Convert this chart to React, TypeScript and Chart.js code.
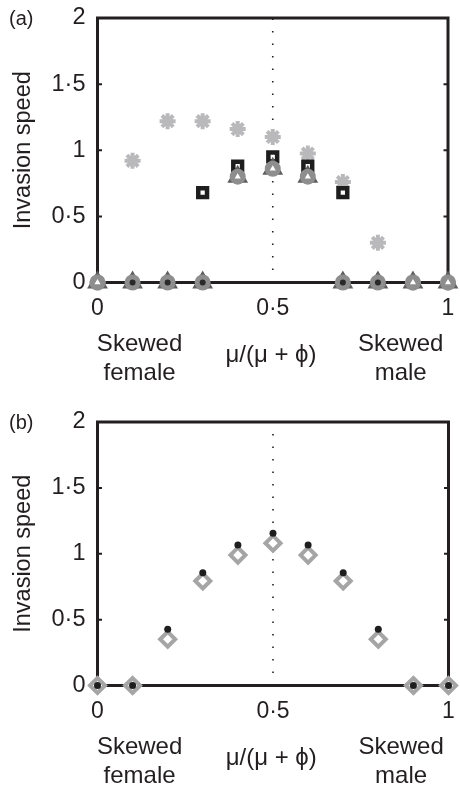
import React, { useEffect, useRef } from 'react';
import { Chart, registerables } from 'chart.js';

Chart.register(...registerables);

// sex ratio of the released population, mu / (mu + phi)
const ratios = [0, 0.1, 0.2, 0.3, 0.4, 0.5, 0.6, 0.7, 0.8, 0.9, 1];

// panel (a)
const asteriskSpeeds = [0, 0.92, 1.22, 1.22, 1.16, 1.1, 0.975, 0.76, 0.3, 0, 0];
const squareSpeeds = [null, null, null, 0.68, 0.88, 0.95, 0.88, 0.68, null, null, null];
const triangleSpeeds = [0, 0, 0, 0, 0.8, 0.86, 0.8, 0, 0, 0, 0];
const circleSpeeds = [0, 0, 0, 0, 0.8, 0.86, 0.8, 0, 0, 0, 0];
const openCentreSpeeds = [0, null, null, null, 0.8, 0.86, 0.8, null, null, 0, 0];
const filledCentreSpeeds = [null, 0, 0, 0, null, null, null, 0, 0, null, null];

// panel (b)
const dotSpeeds = [0, 0, 0.427, 0.856, 1.066, 1.155, 1.066, 0.856, 0.427, 0, 0];
const diamondSpeeds = [0, 0, 0.351, 0.793, 0.99, 1.08, 0.99, 0.793, 0.351, 0, 0];

const yTicks = [0, 0.5, 1, 1.5, 2];
const xTicks = [0, 0.5, 1];
const sideLabels = [['Skewed', 'female'], 'μ/(μ + ϕ)', ['Skewed', 'male']];
const sideLabelAt = [0.12, 0.495, 0.865];
const evenSplit = 0.5;

const ink = '#231f20';
const family = '"Liberation Sans", Arial, Helvetica, sans-serif';
const fmt = (v: number) => String(v).replace('.', '·');

const pts = (speeds: (number | null)[]) =>
  ratios.map((x, i) => ({ x, y: speeds[i] })).filter(p => p.y !== null);

const marker = (data: any, style: string, radius: number, fill: string, border: string, borderWidth: number, order: number) => ({
  data,
  order,
  showLine: false,
  clip: false,
  pointStyle: style,
  pointRadius: radius,
  pointHoverRadius: radius,
  pointBackgroundColor: fill,
  pointBorderColor: border,
  pointBorderWidth: borderWidth,
  pointHoverBorderWidth: borderWidth,
});

const dottedLine = {
  data: [{ x: evenSplit, y: yTicks[0] }, { x: evenSplit, y: yTicks[yTicks.length - 1] }],
  order: 10,
  showLine: true,
  clip: false,
  borderColor: ink,
  borderWidth: 1.6,
  borderDash: [1.6, 10.9],
  pointRadius: 0,
};

const panelA = [
  dottedLine,
  marker(pts(asteriskSpeeds), 'star', 8, '#b9b9bc', '#b9b9bc', 4, 6),
  marker(pts(squareSpeeds), 'rect', 6.2, '#ffffff', '#1e1e1e', 4.5, 5),
  marker(pts(triangleSpeeds), 'triangle', 12, '#5e5e5e', '#5e5e5e', 0, 4),
  marker(pts(circleSpeeds), 'circle', 8, '#8e8e8e', '#8e8e8e', 0, 3),
  marker(pts(openCentreSpeeds), 'triangle', 3.5, '#ffffff', '#ffffff', 0, 2),
  marker(pts(filledCentreSpeeds), 'circle', 3, '#2a2a2a', '#2a2a2a', 0, 1),
];

const panelB = [
  dottedLine,
  marker(pts(diamondSpeeds), 'rectRot', 7.5, '#ffffff', '#a5a5a5', 4, 2),
  marker(pts(dotSpeeds), 'circle', 3.5, '#1e1e1e', '#1e1e1e', 0, 1),
];

// box round the plot area with small inward ticks on both sides
const framePlugin = {
  id: 'frame',
  beforeDatasetsDraw(chart: any) {
    const { ctx, chartArea: a, scales } = chart;
    ctx.save();
    ctx.strokeStyle = ink;
    ctx.lineWidth = 3;
    ctx.strokeRect(a.left, a.top, a.right - a.left, a.bottom - a.top);
    ctx.lineWidth = 2;
    yTicks.slice(1, -1).forEach(v => {
      const y = scales.y.getPixelForValue(v);
      ctx.beginPath();
      ctx.moveTo(a.left, y);
      ctx.lineTo(a.left + 4.5, y);
      ctx.moveTo(a.right, y);
      ctx.lineTo(a.right - 4.5, y);
      ctx.stroke();
    });
    ctx.restore();
  },
};

const noGrid = { display: false, drawTicks: false };

// the plot area is placed by the layout padding alone, not by label overhang
const noOverhang = (s: any) => {
  s.paddingLeft = 0;
  s.paddingRight = 0;
  s.paddingTop = 0;
  s.paddingBottom = 0;
};

const buildOptions = (bottomPad: number) => ({
  responsive: true,
  maintainAspectRatio: false,
  animation: false,
  events: [],
  layout: { padding: { top: 18, left: 0, right: 8, bottom: bottomPad } },
  plugins: { legend: { display: false }, tooltip: { enabled: false } },
  scales: {
    x: {
      type: 'linear',
      position: 'bottom',
      min: 0,
      max: 1,
      weight: 0,
      afterBuildTicks: (s: any) => { s.ticks = xTicks.map(value => ({ value })); },
      afterFit: (s: any) => { noOverhang(s); s.height = 47.5; },
      grid: noGrid,
      border: { display: false },
      ticks: {
        padding: 0,
        maxRotation: 0,
        autoSkip: false,
        color: ink,
        font: { family, size: 23, lineHeight: 2.3 },
        callback: (v: number) => fmt(v),
      },
    },
    xl: {
      type: 'linear',
      position: 'bottom',
      min: 0,
      max: 1,
      weight: 1,
      afterBuildTicks: (s: any) => { s.ticks = sideLabelAt.map(value => ({ value })); },
      afterFit: (s: any) => { noOverhang(s); s.height = 56; },
      grid: noGrid,
      border: { display: false },
      ticks: {
        padding: 0,
        maxRotation: 0,
        autoSkip: false,
        color: ink,
        font: (c: any) => ({ family, size: 24, lineHeight: c.index === 1 ? 2.1 : 1.21 }),
        callback: (_v: number, i: number) => sideLabels[i],
      },
    },
    y: {
      type: 'linear',
      position: 'left',
      min: 0,
      max: 2,
      afterBuildTicks: (s: any) => { s.ticks = yTicks.map(value => ({ value })); },
      afterFit: (s: any) => { noOverhang(s); s.width = 97.5; },
      grid: noGrid,
      border: { display: false },
      ticks: {
        padding: 12,
        color: ink,
        font: { family, size: 23.5 },
        callback: (v: number) => fmt(v),
      },
      title: {
        display: true,
        text: 'Invasion speed',
        color: ink,
        font: { family, size: 23.5 },
        padding: { top: 9, bottom: 0 },
      },
    },
  },
});

const SpeedPanel: React.FC<{ top: number; height: number; bottomPad: number; tag: string; datasets: any[] }> = ({ top, height, bottomPad, tag, datasets }) => {
  const canvasRef = useRef<HTMLCanvasElement | null>(null);

  useEffect(() => {
    let chart: Chart | null = null;
    if (canvasRef.current) {
      chart = new Chart(canvasRef.current, {
        type: 'scatter',
        data: { datasets },
        options: buildOptions(bottomPad) as any,
        plugins: [framePlugin],
      } as any);
    }
    return () => {
      chart?.destroy();
    };
  }, [datasets, bottomPad]);

  return (
    <>
      <div style={{ position: 'absolute', left: 0, top, width: 460, height }}>
        <canvas ref={canvasRef} />
      </div>
      <div style={{ position: 'absolute', left: 9, top: top + 8, font: `20px ${family}`, lineHeight: 1, color: ink }}>
        {tag}
      </div>
    </>
  );
};

export default function App() {
  return (
    <div style={{ position: 'absolute', left: 0, top: 0, width: 460, height: 789, background: '#fff' }}>
      <SpeedPanel top={0} height={386} bottomPad={0} tag="(a)" datasets={panelA} />
      <SpeedPanel top={404} height={385} bottomPad={0} tag="(b)" datasets={panelB} />
    </div>
  );
}
